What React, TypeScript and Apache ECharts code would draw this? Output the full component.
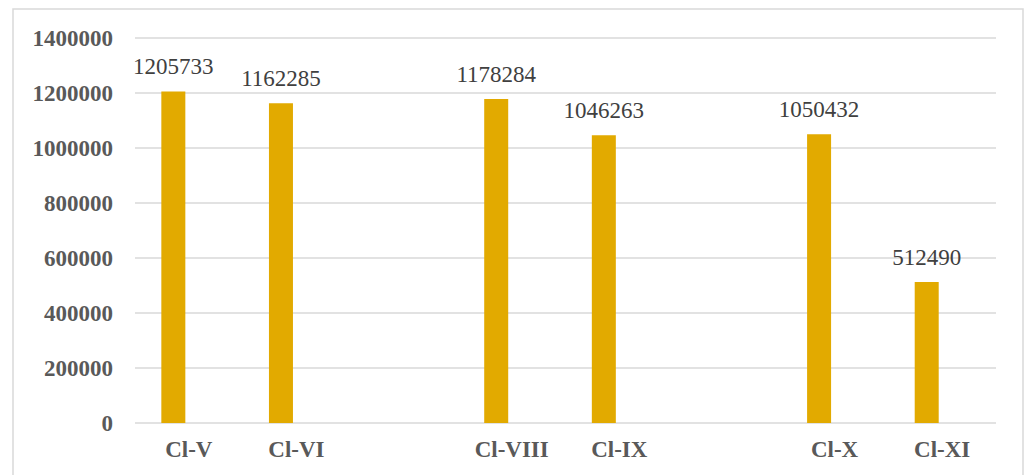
import React, { useEffect, useRef } from "react";
import * as echarts from "echarts";

// Class-wise totals; blank categories leave the gaps between class groups
const categories = ["Cl-V", "Cl-VI", "", "Cl-VIII", "Cl-IX", "", "Cl-X", "Cl-XI"];
const totals = [1205733, 1162285, null, 1178284, 1046263, null, 1050432, 512490];
const emptySeries = [null, null, null, null, null, null, null, null];
const yTicks = { min: 0, max: 1400000, interval: 200000 };

export default function App() {
  const ref = useRef<HTMLDivElement>(null);

  useEffect(() => {
    if (!ref.current) return;
    const chart = echarts.init(ref.current, undefined, { renderer: "svg" });
    const serif = "'Liberation Serif', 'Times New Roman', serif";
    chart.setOption({
      animation: false,
      backgroundColor: "#ffffff",
      graphic: [
        {
          type: "rect",
          shape: { x: 13, y: 9, width: 1010, height: 480 },
          style: { fill: "none", stroke: "#d9d9d9", lineWidth: 1.5 },
          silent: true,
        },
      ],
      grid: { left: 135, right: 29, top: 38, bottom: 52, containLabel: false },
      xAxis: {
        type: "category",
        data: categories,
        axisLine: { show: false },
        axisTick: { show: false },
        axisLabel: {
          interval: 0,
          margin: 15,
          color: "#595959",
          fontFamily: serif,
          fontWeight: "bold",
          fontSize: 23,
        },
      },
      yAxis: {
        type: "value",
        min: yTicks.min,
        max: yTicks.max,
        interval: yTicks.interval,
        axisLine: { show: false },
        axisTick: { show: false },
        splitLine: { lineStyle: { color: "#d9d9d9", width: 1.5 } },
        axisLabel: {
          margin: 22,
          color: "#595959",
          fontFamily: serif,
          fontWeight: "bold",
          fontSize: 23,
          formatter: (v: number) => String(v),
        },
      },
      series: [
        {
          type: "bar",
          data: totals,
          barWidth: 24,
          barGap: "29%",
          itemStyle: { color: "#e2aa00" },
          label: {
            show: true,
            position: "top",
            distance: 13,
            color: "#404040",
            fontFamily: serif,
            fontSize: 23,
          },
        },
        {
          type: "bar",
          data: emptySeries,
          barWidth: 24,
          itemStyle: { color: "#e2aa00" },
        },
      ],
    });
    return () => chart.dispose();
  }, []);

  return (
    <div
      ref={ref}
      style={{ position: "fixed", left: 0, top: 0, width: 1025, height: 475 }}
    />
  );
}
